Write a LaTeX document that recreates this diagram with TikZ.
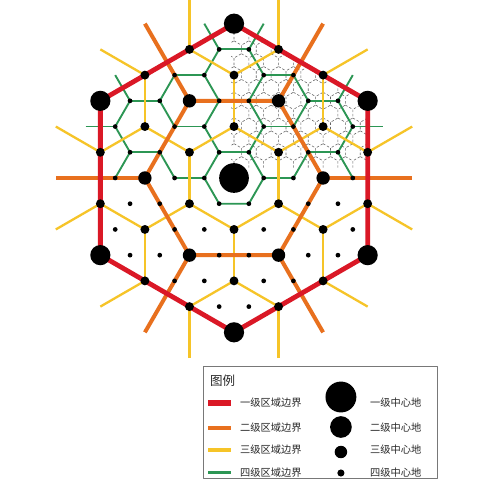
\documentclass[tikz,border=0pt]{standalone}
\usepackage{fontspec}
\usepackage{tikz}
\newfontfamily\cjk{Noto Sans CJK SC}
\definecolor{lvlred}{RGB}{218,24,38}
\definecolor{lvlorange}{RGB}{232,112,30}
\definecolor{lvlyellow}{RGB}{246,196,40}
\definecolor{lvlgreen}{RGB}{44,150,84}
\definecolor{dashgray}{RGB}{100,100,100}
\definecolor{boxgray}{RGB}{120,120,120}
\definecolor{txtgray}{RGB}{40,40,40}
\begin{document}
\begin{tikzpicture}[line join=round,x=1cm,y=1cm,
  lvlone/.style={color=lvlred,line width=4.6pt},
  lvltwo/.style={color=lvlorange,line width=3.8pt},
  lvlthree/.style={color=lvlyellow,line width=2.2pt},
  lvlfour/.style={color=lvlgreen,line width=1.8pt},
  lvlfive/.style={color=dashgray,line width=0.55pt,dash pattern=on 2.4pt off 1.8pt},
  keytext/.style={font=\cjk\fontsize{9.8}{11}\selectfont,text=txtgray,anchor=west,inner sep=0pt}]
\clip (-7.879,-10.943) rectangle (9.057,5.993);
\fill[white] (-7.879,-10.943) rectangle (9.057,5.993);
\begin{scope}
\clip (-0.1,0.35) -- (4.5,0.35) -- (4.5,2.598) -- (0,5.196) -- (-0.1,5.14) -- cycle;
\foreach \i in {-8,...,10}{
  \foreach \j in {0,...,13}{
    \draw[lvlfive] (\i*0.5+\j*0.25,\j*0.4330127) ++(90:0.2887) -- ++(-30:0.2887) -- ++(-90:0.2887) -- ++(-150:0.2887);
  }}
\end{scope}
\draw[lvlfour] (1,0) -- (0.5,-0.8660254) -- (-0.5,-0.8660254) -- (-1,0);
\foreach \i in {-10,...,10}{
  \foreach \j in {0,...,7}{
    \pgfmathtruncatemacro{\ra}{mod(\i-\j+300,3)}
    \pgfmathtruncatemacro{\na}{\i*\i+\i*\j+\j*\j}
    \ifnum\ra>0 \ifnum\na<29
      \foreach \di/\dj in {1/0,0/1,-1/1}{
        \pgfmathtruncatemacro{\rb}{mod(\i+\di-\j-\dj+300,3)}
        \pgfmathtruncatemacro{\nb}{(\i+\di)*(\i+\di)+(\i+\di)*(\j+\dj)+(\j+\dj)*(\j+\dj)}
        \ifnum\rb>0 \ifnum\nb<29
          \draw[lvlfour] (\i+\j/2,\j*0.8660254) -- (\i+\di+\j/2+\dj/2,\j*0.8660254+\dj*0.8660254);
        \fi\fi}
    \fi\fi}}
\foreach \i in {-10,...,10}{
  \foreach \j in {-8,...,8}{
    \pgfmathtruncatemacro{\ra}{mod(\i-\j+300,3)}
    \pgfmathtruncatemacro{\rt}{mod(\i+300,3)}
    \pgfmathtruncatemacro{\na}{\i*\i+\i*\j+\j*\j}
    \ifnum\ra=0 \ifnum\rt>0 \ifnum\na<40
      \foreach \di/\dj in {1/1,-1/2,-2/1}{
        \pgfmathtruncatemacro{\rb}{mod(\i+\di+300,3)}
        \pgfmathtruncatemacro{\nb}{(\i+\di)*(\i+\di)+(\i+\di)*(\j+\dj)+(\j+\dj)*(\j+\dj)}
        \ifnum\rb>0 \ifnum\nb<40
          \draw[lvlthree] (\i+\j/2,\j*0.8660254) -- (\i+\di+\j/2+\dj/2,\j*0.8660254+\dj*0.8660254);
        \fi\fi}
    \fi\fi\fi}}
\draw[lvltwo] (0:3) -- (60:3) -- (120:3) -- (180:3) -- (240:3) -- (300:3) -- cycle;
\foreach \a in {0,60,...,300}
\draw[lvltwo] (\a:3) -- (\a:6);
\draw[lvlone] (90:5.196) -- (150:5.196) -- (210:5.196) -- (270:5.196) -- (330:5.196) -- (30:5.196) -- cycle;
\foreach \i in {-9,...,9}{
  \foreach \j in {-6,...,6}{
    \pgfmathtruncatemacro{\ina}{abs(2*\i+\j)}
    \pgfmathtruncatemacro{\inb}{abs(2*\i+\j)+3*abs(\j)}
    \ifnum\ina<10 \ifnum\inb<19
      \pgfmathtruncatemacro{\rf}{mod(\i-\j+300,3)}
      \pgfmathtruncatemacro{\rt}{mod(\i+300,3)+mod(\j+300,3)}
      \pgfmathtruncatemacro{\rs}{mod((\i-\j)/3+300,3)}
      \def\rad{0.08}
      \ifnum\rf=0 \def\rad{0.15}\fi
      \ifnum\rt=0 \def\rad{0.225}\ifnum\rs=0 \def\rad{0.34}\fi\fi
      \ifnum\numexpr\i*\i+\j*\j\relax=0 \def\rad{0.5}\fi
      \fill (\i+\j/2,\j*0.8660254) circle (\rad);
    \fi\fi}}
\draw[boxgray,line width=0.6pt] (-1.044,-6.33) rectangle (6.835,-10.10);
\node[keytext,font=\cjk\fontsize{12}{14}\selectfont] (legendtitle) at (-0.808,-6.835) {图例};
\draw[lvlred,line width=5.5pt] (-0.875,-7.576) -- (-0.10,-7.576);
\draw[lvlorange,line width=4.5pt] (-0.875,-8.418) -- (-0.10,-8.418);
\draw[lvlyellow,line width=3.6pt] (-0.875,-9.158) -- (-0.10,-9.158);
\draw[lvlgreen,line width=2.6pt] (-0.875,-9.909) -- (-0.10,-9.909);
\node[keytext] (areaone) at (0.20,-7.576) {一级区域边界};
\node[keytext] (areatwo) at (0.20,-8.418) {二级区域边界};
\node[keytext] (areathree) at (0.20,-9.158) {三级区域边界};
\node[keytext] (areafour) at (0.20,-9.909) {四级区域边界};
\fill (3.60,-7.374) circle (0.52);
\fill (3.60,-8.384) circle (0.365);
\fill (3.60,-9.226) circle (0.21);
\fill (3.60,-9.933) circle (0.12);
\node[keytext] (placeone) at (4.58,-7.576) {一级中心地};
\node[keytext] (placetwo) at (4.58,-8.418) {二级中心地};
\node[keytext] (placethree) at (4.58,-9.158) {三级中心地};
\node[keytext] (placefour) at (4.58,-9.909) {四级中心地};
\end{tikzpicture}
\end{document}
